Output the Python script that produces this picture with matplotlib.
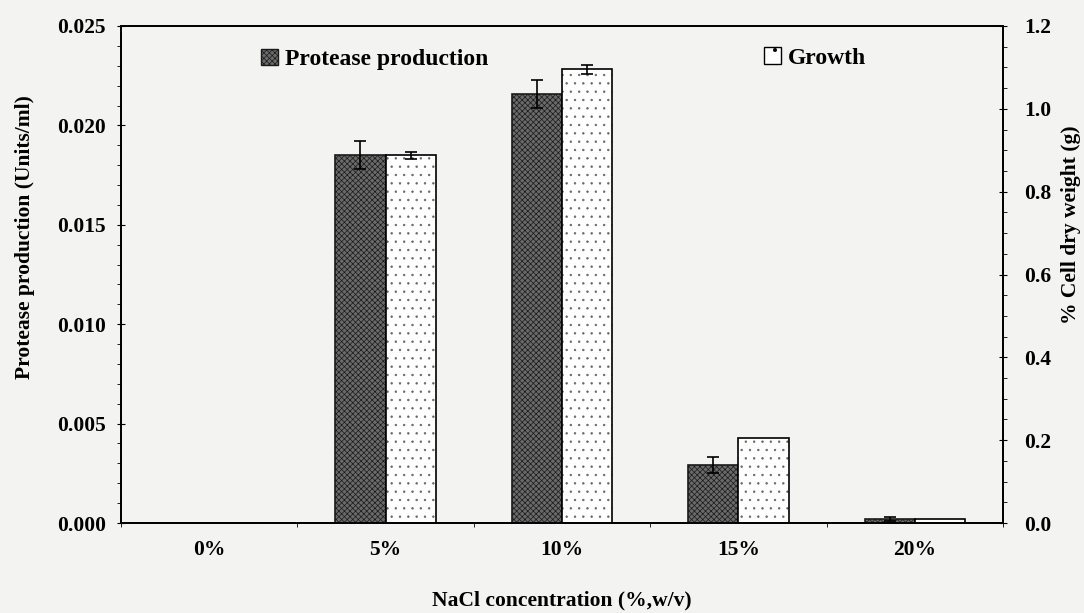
import matplotlib.pyplot as plt
import matplotlib.patches as mpatches
from matplotlib.ticker import MultipleLocator, FormatStrFormatter
import numpy as np

plt.rcParams['font.family'] = ['Liberation Serif', 'DejaVu Serif']
plt.rcParams['font.weight'] = 'bold'
plt.rcParams['hatch.linewidth'] = 0.5

# NaCl levels and measured values
nacl = ['0%', '5%', '10%', '15%', '20%']
protease = [0.0, 0.0185, 0.0216, 0.0029, 0.0002]
protease_err = [0.0, 0.0007, 0.0007, 0.0004, 0.0001]
growth = [0.0, 0.888, 1.095, 0.205, 0.010]
growth_err = [0.0, 0.008, 0.010, 0.0, 0.0]

bg = '#f3f3f1'
fig = plt.figure(figsize=(10.84, 6.13), dpi=100, facecolor=bg)
ax = fig.add_axes([0.1116, 0.1468, 0.8137, 0.8108], facecolor=bg)
ax2 = ax.twinx()

x = np.arange(len(nacl))
w = 0.285

# protease bars (left axis)
ax.bar(x - w / 2, protease, w, color='#6a6a6a', edgecolor='#1a1a1a',
       linewidth=1.2, hatch='xxxxxx', zorder=2)
ax.errorbar(x[1:] - w / 2, protease[1:], yerr=protease_err[1:], fmt='none',
            ecolor='black', elinewidth=1.2, capsize=4, capthick=1.2, zorder=3)

# growth bars (right axis): grey dot fill, then a black outline on top
ax2.bar(x + w / 2, growth, w, color='white', edgecolor='#666666',
        linewidth=0, hatch='..', zorder=2)
ax2.bar(x + w / 2, growth, w, color='none', edgecolor='black',
        linewidth=1.2, zorder=2)
ax2.errorbar(x[1:3] + w / 2, growth[1:3], yerr=growth_err[1:3], fmt='none',
             ecolor='black', elinewidth=1.2, capsize=4, capthick=1.2, zorder=3)

ax.set_xlim(-0.5, 4.5)
ax.set_ylim(0, 0.025)
ax2.set_ylim(0, 1.2)

fs = 15.5
ax.set_xticks(x)
ax.set_xticklabels(nacl, fontsize=fs, fontweight='bold')
ax.set_xticks(np.arange(-0.5, 4.6, 1), minor=True)
ax.tick_params(axis='x', which='major', length=0, pad=12)
ax.tick_params(axis='x', which='minor', length=3, direction='out')

ax.yaxis.set_major_locator(MultipleLocator(0.005))
ax.yaxis.set_minor_locator(MultipleLocator(0.001))
ax.yaxis.set_major_formatter(FormatStrFormatter('%.3f'))
ax.tick_params(axis='y', which='major', length=6, direction='inout', labelsize=fs, pad=8)
ax.tick_params(axis='y', which='minor', length=3, direction='out')

ax2.yaxis.set_major_locator(MultipleLocator(0.2))
ax2.yaxis.set_minor_locator(MultipleLocator(0.05))
ax2.yaxis.set_major_formatter(FormatStrFormatter('%.1f'))
ax2.tick_params(axis='y', which='major', length=6, direction='inout', labelsize=fs, pad=12)
ax2.tick_params(axis='y', which='minor', length=3, direction='out')

for lab in ax.get_yticklabels() + ax2.get_yticklabels():
    lab.set_fontweight('bold')

for a in (ax, ax2):
    for s in a.spines.values():
        s.set_linewidth(1.3)

ax.set_xlabel('NaCl concentration (%,w/v)', fontsize=fs, fontweight='bold', labelpad=22)
ax.set_ylabel('Protease production (Units/ml)', fontsize=fs, fontweight='bold')
ax2.set_ylabel('% Cell dry weight (g)', fontsize=fs, fontweight='bold')
ax.yaxis.set_label_coords(-0.097, 0.575)
ax2.yaxis.set_label_coords(1.066, 0.60)

# two separate legend entries placed across the top
p1 = mpatches.Patch(facecolor='#6a6a6a', edgecolor='#1a1a1a', hatch='xxxxxx', label='Protease production')
p2 = mpatches.Patch(facecolor='white', edgecolor='black', hatch='.', label='Growth')
leg1 = ax2.legend(handles=[p1], loc='upper left', bbox_to_anchor=(0.135, 0.997), frameon=False,
                  prop={'size': 17, 'weight': 'bold'}, handlelength=0.7, handleheight=0.7,
                  handletextpad=0.3)
ax2.add_artist(leg1)
ax2.legend(handles=[p2], loc='upper left', bbox_to_anchor=(0.705, 1.0), frameon=False,
           prop={'size': 17, 'weight': 'bold'}, handlelength=0.7, handleheight=0.7,
           handletextpad=0.3)

fig.savefig('out.png', dpi=100, facecolor=bg)
